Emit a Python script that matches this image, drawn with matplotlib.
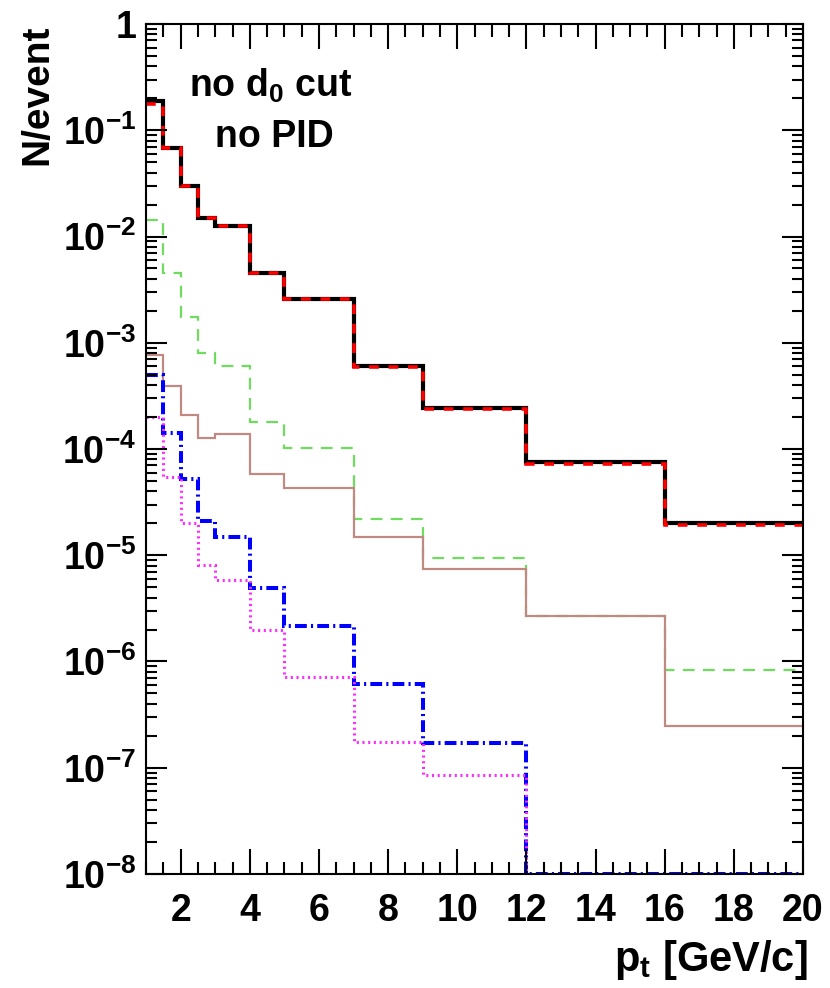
import numpy as np
import matplotlib
matplotlib.use("Agg")
import matplotlib.pyplot as plt
from matplotlib.ticker import MultipleLocator, LogLocator, FuncFormatter, NullFormatter

# ROOT-like look: bold Helvetica-ish text everywhere
plt.rcParams['font.family'] = ['Liberation Sans', 'DejaVu Sans']
plt.rcParams['font.weight'] = 'bold'
plt.rcParams['mathtext.fontset'] = 'custom'
plt.rcParams['mathtext.rm'] = 'Liberation Sans:bold'
plt.rcParams['mathtext.it'] = 'Liberation Sans:bold'
plt.rcParams['mathtext.bf'] = 'Liberation Sans:bold'
plt.rcParams['lines.scale_dashes'] = False

# bin edges in pt [GeV/c]
edges = [1, 1.5, 2, 2.5, 3, 4, 5, 7, 9, 12, 16, 20]

# N/event per bin
total_black = [0.19, 0.068, 0.030, 0.0149, 0.0126, 0.0045, 0.0026, 6.0e-4, 2.45e-4, 7.5e-5, 2.0e-5]
total_red = [0.175, 0.068, 0.030, 0.0149, 0.0126, 0.0045, 0.0026, 5.9e-4, 2.4e-4, 7.2e-5, 1.92e-5]
green = [0.0143, 0.0045, 0.00175, 8.0e-4, 6.0e-4, 1.78e-4, 1.02e-4, 2.2e-5, 9.4e-6, 2.7e-6, 8.3e-7]
brown = [7.6e-4, 3.9e-4, 2.09e-4, 1.27e-4, 1.38e-4, 5.8e-5, 4.3e-5, 1.5e-5, 7.4e-6, 2.7e-6, 2.46e-7]
blue = [5.0e-4, 1.4e-4, 5.2e-5, 2.1e-5, 1.5e-5, 4.9e-6, 2.15e-6, 6.2e-7, 1.7e-7, 0, 0]
magenta = [2.0e-4, 5.5e-5, 2.0e-5, 8.1e-6, 5.9e-6, 2.0e-6, 7.1e-7, 1.75e-7, 8.5e-8, 0, 0]

ymin, ymax = 1e-8, 1.0
xmin, xmax = 1, 20


def hstep(ax, vals, **kw):
    # empty bins sit on the bottom of the frame, like ROOT does
    v = np.clip(np.asarray(vals, dtype=float), ymin, None)
    return ax.stairs(v, edges, baseline=None, **kw)


fig = plt.figure(figsize=(8.30, 9.88), dpi=100)
ax = fig.add_axes([0.176, 0.1154, 0.7915, 0.8603])

hstep(ax, total_black, color='black', lw=3.0)
hstep(ax, total_red, color='red', lw=2.6, linestyle=(0, (7, 7)))
hstep(ax, green, color='#6fdc5f', lw=1.6, linestyle=(0, (8.5, 6)))
hstep(ax, brown, color='#c08a82', lw=1.6)
hstep(ax, blue, color='blue', lw=2.9, linestyle=(0, (8.5, 3, 1.5, 3)))
hstep(ax, magenta, color='#ff2bff', lw=2.2, linestyle=(0, (1.5, 2.6)))

ax.set_yscale('log')
ax.set_xlim(xmin, xmax)
ax.set_ylim(ymin, ymax)

ax.xaxis.set_major_locator(MultipleLocator(2))
ax.xaxis.set_minor_locator(MultipleLocator(0.5))
ax.yaxis.set_major_locator(LogLocator(base=10, numticks=20))
ax.yaxis.set_minor_locator(LogLocator(base=10, subs=np.arange(2, 10), numticks=20))
ax.yaxis.set_minor_formatter(NullFormatter())


def ylab(v, pos):
    e = int(round(np.log10(v)))
    if e == 0:
        return '1'
    return r'$\mathbf{10^{%d}}$' % e


ax.yaxis.set_major_formatter(FuncFormatter(ylab))
ax.xaxis.set_major_formatter(FuncFormatter(lambda v, p: '%d' % v))

ax.tick_params(which='both', direction='in', top=True, right=True, width=1.5, labelsize=27)
ax.tick_params(axis='x', which='major', length=18, pad=14)
ax.tick_params(axis='x', which='minor', length=9)
ax.tick_params(axis='y', which='major', length=15, pad=7)
ax.tick_params(axis='y', which='minor', length=8)
for s in ax.spines.values():
    s.set_linewidth(1.5)

fig.text(0.045, 0.975, 'N/event', rotation=90, ha='center', va='top', fontsize=28, fontweight='bold')
fig.text(0.973, 0.017, r'p$_\mathbf{t}$ [GeV/c]', ha='right', va='baseline', fontsize=30, fontweight='bold')

ax.text(0.19, 0.927, r'no d$_\mathbf{0}$ cut', transform=ax.transAxes, ha='center', va='center',
        fontsize=27, fontweight='bold')
ax.text(0.196, 0.867, 'no PID', transform=ax.transAxes, ha='center', va='center',
        fontsize=27, fontweight='bold')

fig.savefig('out.png', dpi=100)
